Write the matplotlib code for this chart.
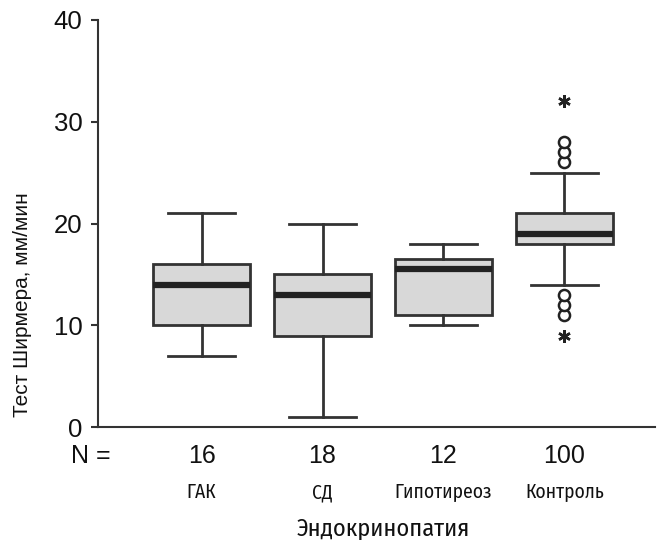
import numpy as np
import matplotlib
matplotlib.use('Agg')
from matplotlib import pyplot as plt

groups = ['ГАК', 'СД', 'Гипотиреоз', 'Контроль']
n_counts = [16, 18, 12, 100]
whislo = [7, 1, 10, 14]
q1 = [10, 9, 11, 18]
med = [14, 13, 15.5, 19]
q3 = [16, 15, 16.5, 21]
whishi = [21, 20, 18, 25]
outliers = [[], [], [], [11, 12, 13, 26, 27, 28]]
extremes = [[], [], [], [9, 32]]
yticks = [0, 10, 20, 30, 40]

narrow = ['Fira Sans Condensed', 'DejaVu Sans']
plt.rcParams['font.family'] = ['Liberation Sans', 'DejaVu Sans']

fig = plt.figure(figsize=(6.62, 5.4), dpi=100)
ax = fig.add_axes([0.1475, 0.209, 0.842, 0.754])

stats = []
for i in range(len(groups)):
    stats.append({'whislo': whislo[i], 'q1': q1[i], 'med': med[i], 'q3': q3[i],
                  'whishi': whishi[i], 'fliers': outliers[i]})

pos = np.arange(1, len(groups) + 1)
edge = '#333333'
ax.bxp(stats, positions=pos, widths=0.8, patch_artist=True,
       boxprops=dict(facecolor='#d8d8d8', edgecolor=edge, linewidth=2),
       medianprops=dict(color='#222222', linewidth=4.5),
       whiskerprops=dict(color=edge, linewidth=2),
       capprops=dict(color=edge, linewidth=2),
       capwidths=0.56,
       flierprops=dict(marker='o', markerfacecolor='white', markeredgecolor='#222222',
                       markersize=8, markeredgewidth=1.8))

# extreme values drawn as asterisks
for i, ex in enumerate(extremes):
    if ex:
        ax.plot([pos[i]] * len(ex), ex, linestyle='none', marker=(6, 2, 0),
                color='#222222', markersize=9, markeredgewidth=1.8)

ax.set_xlim(0.14, 4.75)
ax.set_ylim(0, 40)
ax.set_yticks(yticks)
ax.tick_params(axis='y', labelsize=18.5, length=5, width=1.5, color=edge,
               direction='out', pad=6, labelcolor='#111111')
ax.set_xticks([])
ax.spines['top'].set_visible(False)
ax.spines['right'].set_visible(False)
for s in ('left', 'bottom'):
    ax.spines[s].set_linewidth(1.5)
    ax.spines[s].set_color(edge)
ax.set_ylabel('Тест Ширмера, мм/мин', fontsize=15, color='#111111')
ax.yaxis.set_label_coords(-0.118, 0.30)

trans = ax.get_xaxis_transform()
ax.text(-0.012, -0.072, 'N =', transform=ax.transAxes, fontsize=18, ha='center',
        va='center', color='#111111')
for i in range(len(groups)):
    ax.text(pos[i], -0.072, str(n_counts[i]), transform=trans, fontsize=18,
            ha='center', va='center', color='#111111')
    ax.text(pos[i], -0.16, groups[i], transform=trans, fontsize=14,
            ha='center', va='center', family=narrow, color='#111111')

ax.text(2.5, -0.25, 'Эндокринопатия', transform=trans, fontsize=17.5,
        ha='center', va='center', family=narrow, color='#111111')

fig.savefig('out.png', dpi=100)
